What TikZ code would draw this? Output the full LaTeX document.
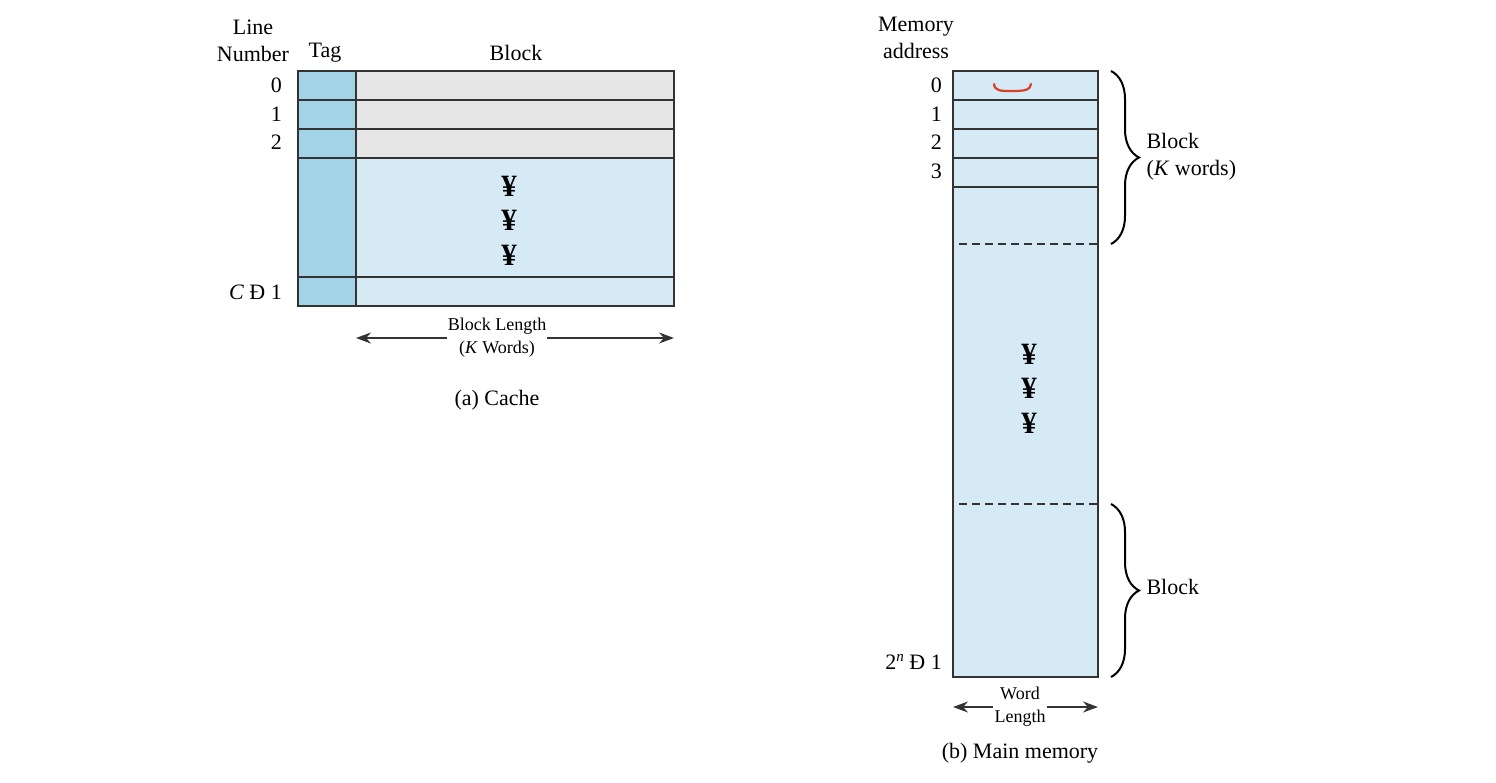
\documentclass[tikz,border=0pt]{standalone}
\usepackage{fontspec}
\setmainfont{Liberation Serif}
\usetikzlibrary{arrows.meta}
\usetikzlibrary{decorations.pathreplacing}
\definecolor{tagblau}{HTML}{A3D3E6}
\definecolor{hblau}{HTML}{D5EAF4}
\definecolor{hgrau}{HTML}{E6E6E6}
\definecolor{linie}{HTML}{333333}
\definecolor{markrot}{HTML}{D9402A}

\begin{document}
\begin{tikzpicture}[x=1pt, y=-1pt,
    font=\fontsize{22}{27}\selectfont,
    rand/.style={linie, line width=1.5pt},
    pfeil/.style={-{Stealth[length=15pt, width=11pt]}, linie, line width=1.4pt},
    klein/.style={font=\fontsize{18}{23}\selectfont, align=center, inner sep=1pt},
    nummer/.style={anchor=east, inner sep=2pt},
    punkt/.style={font=\fontsize{31}{31}\selectfont\bfseries, inner sep=0pt}]
        \useasboundingbox (0,0) rectangle (1496,782);
        % (a) cache
        \fill[hblau] (356,158) rectangle (674,306);
        \fill[hgrau] (356,71) rectangle (674,158);
        \fill[tagblau] (298,71) rectangle (356,306);
        \draw[rand] (298,71) rectangle (674,306);
        \draw[rand] (356,71) -- (356,306);
        \foreach \y in {100,129,158,277} \draw[rand] (298,\y) -- (674,\y);
        \node[align=center] (LN) at (253,41) {Line\\Number};
        \node (TAG) at (325,53) {Tag};
        \node (BLK) at (516,53) {Block};
        \node[nummer] (C0) at (284,85) {0};
        \node[nummer] (C1) at (284,114) {1};
        \node[nummer] (C2) at (284,142) {2};
        \node[nummer] (CN) at (284,292) {\textit{C} Ð 1};
        \node[punkt] (CD1) at (509,186) {¥};
        \node[punkt] (CD2) at (509,220) {¥};
        \node[punkt] (CD3) at (509,255) {¥};
        \node[klein] (BL) at (497,338) {Block Length\\(\textit{K} Words)};
        \coordinate (BLl) at (356,338);
        \coordinate (BLr) at (674,338);
        \draw[pfeil] (BL.west) -- (BLl);
        \draw[pfeil] (BL.east) -- (BLr);
        \node (CAP1) at (497,400) {(a) Cache};
        % (b) main memory
        \fill[hblau] (953,71) rectangle (1098,677);
        \draw[rand] (953,71) rectangle (1098,677);
        \foreach \y in {100,129,158,187} \draw[rand] (953,\y) -- (1098,\y);
        \draw[linie, line width=1.3pt, dash pattern=on 8pt off 5pt] (959,244) -- (1098,244);
        \draw[linie, line width=1.3pt, dash pattern=on 8pt off 5pt] (959,504) -- (1098,504);
        \draw[markrot, line width=2.2pt, line cap=round] (994,84) .. controls (995,91) and (1000,91) .. (1012,91) .. controls (1026,91) and (1030,90) .. (1031,84);
        \node[align=center] (MA) at (916,38) {Memory\\address};
        \node[nummer] (M0) at (944,85) {0};
        \node[nummer] (M1) at (944,114) {1};
        \node[nummer] (M2) at (944,142) {2};
        \node[nummer] (M3) at (944,171) {3};
        \node[nummer] (MN) at (944,662) {2\raisebox{0.75ex}{\fontsize{15}{15}\selectfont\textit{n}} Ð 1};
        \node[punkt] (MD1) at (1029,354) {¥};
        \node[punkt] (MD2) at (1029,388) {¥};
        \node[punkt] (MD3) at (1029,423) {¥};
        \draw[decorate, decoration={brace, amplitude=28pt}, line width=2pt] (1111,71) -- (1111,244);
        \draw[decorate, decoration={brace, amplitude=28pt}, line width=2pt] (1111,504) -- (1111,677);
        \node[anchor=west, align=left] (B1) at (1143,157) {Block\\(\textit{K} words)};
        \node[anchor=west] (B2) at (1143,587) {Block};
        \node[klein] (WL) at (1020,707) {Word\\Length};
        \coordinate (WLl) at (953,707);
        \coordinate (WLr) at (1098,707);
        \draw[pfeil] (WL.west) -- (WLl);
        \draw[pfeil] (WL.east) -- (WLr);
        \node (CAP2) at (1020,753) {(b) Main memory};
    \end{tikzpicture}
\end{document}
